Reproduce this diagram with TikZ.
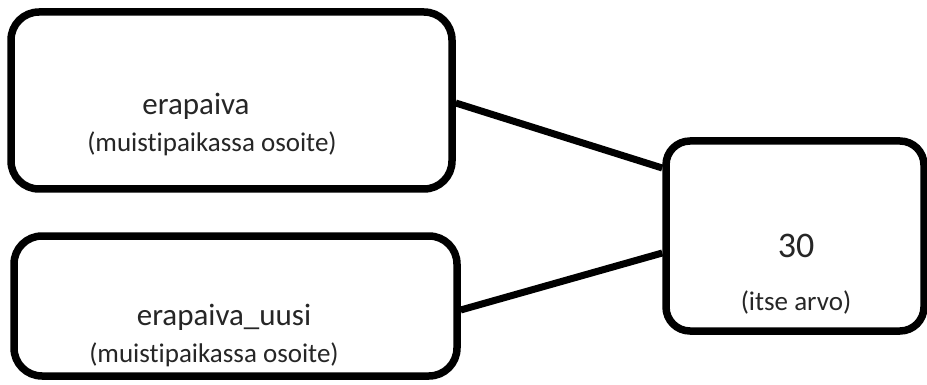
\documentclass[tikz,border=0pt]{standalone}
\usepackage{fontspec}
\setmainfont{Carlito}[Ligatures={NoCommon}]
\begin{document}
\begin{tikzpicture}[x=1pt,y=-1pt,
  box/.style={draw=black, line width=7.5pt, rectangle, rounded corners=28pt, inner sep=0pt},
  link/.style={draw=black, line width=7pt},
  maintxt/.style={anchor=base, inner sep=0pt, font=\fontsize{31}{36}\selectfont, text=black!85},
  subtxt/.style={anchor=base, inner sep=0pt, font=\fontsize{27}{32}\selectfont, text=black!85},
  numtxt/.style={anchor=base, inner sep=0pt, font=\fontsize{36}{42}\selectfont, text=black!85}]
\useasboundingbox (0,0) rectangle (927,385);
\fill[white] (0,0) rectangle (927,385);
\node[box, minimum width=441pt, minimum height=177pt] (b1) at (231.5,100.5) {};
\node[box, minimum width=443pt, minimum height=140pt] (b2) at (235.5,306) {};
\node[box, rounded corners=24pt, minimum width=258pt, minimum height=190pt] (b3) at (795,236) {};
\node[maintxt] (t1) at (196,115) {erapaiva};
\node[subtxt] (s1) at (212,152) {(muistipaikassa osoite)};
\node[maintxt] (t2) at (224,325) {erapaiva\_uusi};
\node[subtxt] (s2) at (214,362) {(muistipaikassa osoite)};
\node[numtxt] (t3) at (796,257) {30};
\node[subtxt] (s3) at (796,310) {(itse arvo)};
\draw[link] ([yshift=-2.5pt]b1.east) -- ([yshift=68pt]b3.west);
\draw[link] ([yshift=-4pt]b2.east) -- ([yshift=-17pt]b3.west);
\end{tikzpicture}
\end{document}
